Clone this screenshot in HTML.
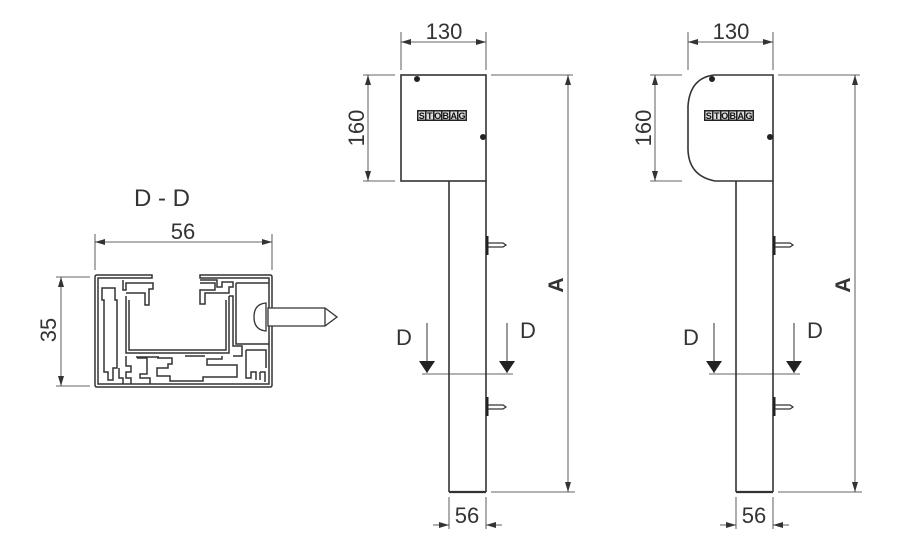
<!DOCTYPE html>
<html><head><meta charset="utf-8"><style>
html,body{margin:0;padding:0;background:#fff;}
svg{display:block;}
text{font-family:"Liberation Sans",sans-serif;fill:#333;}
</style></head><body>
<svg width="909" height="548" viewBox="0 0 909 548" xmlns="http://www.w3.org/2000/svg">
<defs>
<marker id="ar" viewBox="0 0 10 6" refX="10" refY="3" markerWidth="10" markerHeight="6" orient="auto-start-reverse" markerUnits="userSpaceOnUse">
<path d="M0,0 L10,3 L0,6 z" fill="#333"/></marker>
<marker id="bar" viewBox="0 0 12 18" refX="12" refY="9" markerWidth="12" markerHeight="18" orient="auto" markerUnits="userSpaceOnUse">
<path d="M0,1 L12,9 L0,17 z" fill="#222"/></marker>
<g id="logo">
<rect x="0" y="0" width="50" height="11" fill="#222"/>
<g fill="#ddd"><rect x="1.5" y="1.5" width="6.5" height="8"/><rect x="9.5" y="1.5" width="6.5" height="8"/><rect x="17.5" y="1.5" width="6.5" height="8"/><rect x="25.5" y="1.5" width="6.5" height="8"/><rect x="33.5" y="1.5" width="6.5" height="8"/><rect x="41.5" y="1.5" width="7" height="8"/></g>
<g font-size="9" font-weight="bold" text-anchor="middle" font-family="Liberation Sans">
<text x="4.8" y="9" style="fill:#111">S</text><text x="12.8" y="9" style="fill:#111">T</text><text x="20.8" y="9" style="fill:#111">O</text><text x="28.8" y="9" style="fill:#111">B</text><text x="36.8" y="9" style="fill:#111">A</text><text x="45" y="9" style="fill:#111">G</text></g>
</g>
<g id="common" stroke="#333" fill="none">
<line x1="401" y1="32" x2="401" y2="70" stroke-width="0.8"/>
<line x1="486" y1="32" x2="486" y2="70" stroke-width="0.8"/>
<line x1="401" y1="42" x2="486" y2="42" stroke-width="0.8" marker-start="url(#ar)" marker-end="url(#ar)"/>
<line x1="363" y1="75" x2="395" y2="75" stroke-width="0.8"/>
<line x1="363" y1="181" x2="395" y2="181" stroke-width="0.8"/>
<line x1="368" y1="75" x2="368" y2="181" stroke-width="0.8" marker-start="url(#ar)" marker-end="url(#ar)"/>
<line x1="449" y1="181" x2="449" y2="492" stroke-width="1.6"/>
<line x1="486" y1="181" x2="486" y2="492" stroke-width="1.6"/>
<line x1="449" y1="492" x2="486" y2="492" stroke-width="2.2"/>
<line x1="491" y1="75" x2="573" y2="75" stroke-width="0.8"/>
<line x1="491" y1="492" x2="575" y2="492" stroke-width="0.8"/>
<line x1="568" y1="75" x2="568" y2="492" stroke-width="0.8" marker-start="url(#ar)" marker-end="url(#ar)"/>
<rect x="486" y="236" width="2.5" height="19" fill="#222" stroke="none"/>
<path d="M488,243 H503 L506,245 L503,247 H488" stroke-width="1.2"/>
<rect x="486" y="397" width="2.5" height="19" fill="#222" stroke="none"/>
<path d="M488,405 H503 L506,407 L503,409 H488" stroke-width="1.2"/>
<line x1="422" y1="374" x2="513" y2="374" stroke-width="0.8"/>
<line x1="427" y1="323" x2="427" y2="373" stroke-width="1" marker-end="url(#bar)"/>
<line x1="507" y1="323" x2="507" y2="373" stroke-width="1" marker-end="url(#bar)"/>
<line x1="449" y1="497" x2="449" y2="529" stroke-width="0.8"/>
<line x1="486" y1="497" x2="486" y2="529" stroke-width="0.8"/>
<line x1="433" y1="525" x2="449" y2="525" stroke-width="0.8" marker-end="url(#ar)"/>
<line x1="502" y1="525" x2="486" y2="525" stroke-width="0.8" marker-end="url(#ar)"/>
</g>
<g id="ctext">
<text x="444" y="39" font-size="22" text-anchor="middle">130</text>
<text x="467" y="523" font-size="22" text-anchor="middle">56</text>
<text x="404" y="345" font-size="22" text-anchor="middle">D</text>
<text x="528" y="338" font-size="22" text-anchor="middle">D</text>
<text transform="translate(364,128) rotate(-90)" font-size="22" text-anchor="middle">160</text>
<text transform="translate(563,285) rotate(-90)" font-size="21" font-weight="bold" text-anchor="middle">A</text>
</g>
</defs>

<use href="#common"/>
<use href="#ctext"/>
<rect x="401" y="75" width="85" height="106" fill="none" stroke="#333" stroke-width="1.6"/>
<circle cx="417" cy="79" r="3" fill="#222"/>
<circle cx="483" cy="137" r="3" fill="#222"/>
<use href="#logo" x="417" y="110"/>

<g transform="translate(287,0)">
<use href="#common"/>
<use href="#ctext"/>
</g>
<path d="M773,75 V181 H715 Q689,176 688,150 V106 Q690,78 714,75 Z" fill="#fff" stroke="#333" stroke-width="1.6"/>
<circle cx="712" cy="79" r="3" fill="#222"/>
<circle cx="770" cy="137" r="3" fill="#222"/>
<use href="#logo" x="704" y="110"/>

<text x="162" y="206" font-size="24" text-anchor="middle">D - D</text>
<text x="183" y="239" font-size="22" text-anchor="middle">56</text>
<text transform="translate(56,330) rotate(-90)" font-size="22" text-anchor="middle">35</text>
<g stroke="#333" fill="none" stroke-width="0.8">
<line x1="95" y1="234" x2="95" y2="270"/>
<line x1="272" y1="234" x2="272" y2="270"/>
<line x1="95" y1="242" x2="272" y2="242" marker-start="url(#ar)" marker-end="url(#ar)"/>
<line x1="56" y1="277" x2="90" y2="277"/>
<line x1="56" y1="386" x2="90" y2="386"/>
<line x1="61" y1="277" x2="61" y2="386" marker-start="url(#ar)" marker-end="url(#ar)"/>
</g>
<g stroke="#333" fill="none" stroke-width="1.5">
<path d="M152,275 H97 Q95,275 95,277 V385 Q95,387 97,387 H270 Q272,387 272,385 V277 Q272,275 270,275 H200 V278 H269 V384 H98 V278 H152 Z"/>
<path d="M102,288 H115 V300 H117 V368 H113 V380 H108 V372 H104 V300 H102 Z"/>
<path d="M123,280 V290 H126 V283 H153 V289 H149 V305 H145 V293 H126"/>
<path d="M200,280 H217 V287 H222 V282 H233 V287 H229 V293 H205 V304 H200 V290 H215 V283 H200"/>
<path d="M126,296 V353 H229 V296"/>
<path d="M129,300 V350 H226 V300"/>
<path d="M229,296 H233 V346 H242 V356 H233"/>
<path d="M236,283 H269 M236,283 V344 H269"/>
<path d="M119,368 V378 H123 V384 M126,356 V366 H131 V372 H126 V378 H131 V384 M137,358 H147 V374 H140 V378 H150 V384"/>
<path d="M157,358 H172 V364 H168 V368 H157 V376 H170 V381 H203 V377 H237 V365 H207 V359 H222 V356"/>
<path d="M246,350 V378 H251 V372 H256 V380 M260,372 V380 M260,372 H265 V382 M246,350 H266 V368"/>
<path d="M136,357 H159 M185,356 H205"/>
</g>
<g stroke="#333" fill="#fff" stroke-width="1.3">
<path d="M268,308 H325 L337,317 L325,326 H268 Z"/>
<path d="M266,303 Q254,304 254,317 Q254,330 266,331 Z"/>
<line x1="325" y1="308" x2="325" y2="326"/>
</g>
</svg>
</body></html>
